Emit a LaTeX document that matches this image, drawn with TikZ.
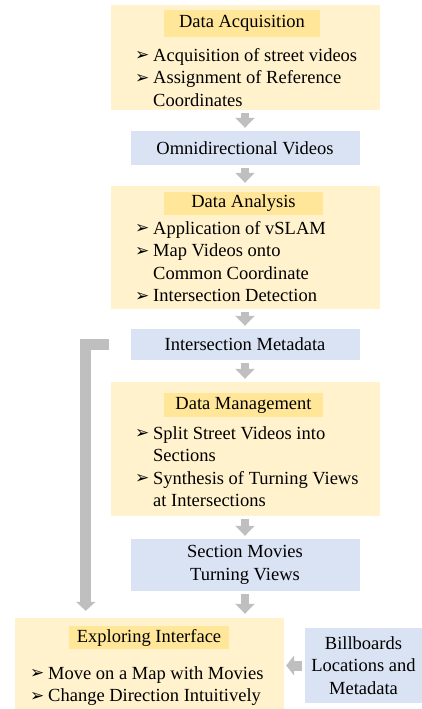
\documentclass[tikz,border=0pt]{standalone}
\usepackage{fontspec}
\setmainfont{Liberation Serif}
\newfontfamily\dingfont{DejaVu Sans}
\usetikzlibrary{arrows.meta}
\definecolor{stagefill}{HTML}{FFF2CC}
\definecolor{titlefill}{HTML}{FFE699}
\definecolor{datafill}{HTML}{DAE3F3}
\definecolor{arrowgray}{HTML}{BFBFBF}
\newcommand{\bul}{\makebox[18pt][l]{\raisebox{0.5pt}{\dingfont\fontsize{17}{17}\selectfont ➢}}}
\newcommand{\cont}{\hspace*{18pt}}
\tikzset{
every node/.style={font=\fontsize{18.5}{22.5}\selectfont},
stagebox/.style={fill=stagefill, inner sep=0pt},
titlebox/.style={fill=titlefill, inner sep=0pt},
databox/.style={fill=datafill, inner sep=0pt, align=center},
itemlist/.style={anchor=north west, inner sep=0pt, align=left},
flowarrow/.style={draw=arrowgray, line width=8pt,
  -{Triangle[width=19pt,length=10pt]}, shorten <=3pt, shorten >=3pt},
bigarrow/.style={draw=arrowgray, line width=11pt, line join=miter,
  -{Triangle[width=19pt,length=9pt]}},
}

\begin{document}
\begin{tikzpicture}[x=1pt, y=-1pt]
\useasboundingbox (0,0) rectangle (422,709);

% stages
\node[stagebox, minimum width=269pt, minimum height=105pt] (acq) at (245,57.5) {};
\node[titlebox, minimum width=156pt, minimum height=27pt] (acqtitle) at (242,23.5) {Data Acquisition};
\node[itemlist] (acqitems) at (135,48) {\bul Acquisition of street videos\\
\bul Assignment of Reference\\ \cont Coordinates};

\node[databox, minimum width=229pt, minimum height=34pt] (omni) at (245,148) {Omnidirectional Videos};

\node[stagebox, minimum width=269pt, minimum height=123pt] (ana) at (245,247.5) {};
\node[titlebox, minimum width=159pt, minimum height=23pt] (anatitle) at (243.5,203.5) {Data Analysis};
\node[itemlist] (anaitems) at (135,221) {\bul Application of vSLAM\\
\bul Map Videos onto\\ \cont Common Coordinate\\ \bul Intersection Detection};

\node[databox, minimum width=229pt, minimum height=31pt] (meta) at (245,344.5) {Intersection Metadata};

\node[stagebox, minimum width=269pt, minimum height=134pt] (man) at (245,449) {};
\node[titlebox, minimum width=159pt, minimum height=24pt] (mantitle) at (243.5,405) {Data Management};
\node[itemlist] (manitems) at (135,426) {\bul Split Street Videos into\\ \cont Sections\\
\bul Synthesis of Turning Views\\ \cont at Intersections};

\node[databox, minimum width=229pt, minimum height=52pt] (sec) at (245,565) {Section Movies\\Turning Views};

\node[stagebox, minimum width=269pt, minimum height=91pt] (expl) at (149.5,663.5) {};
\node[titlebox, minimum width=160pt, minimum height=23pt] (expltitle) at (149,637.5) {Exploring Interface};
\node[itemlist] (explitems) at (30,666) {\bul Move on a Map with Movies\\
\bul Change Direction Intuitively};

\node[databox, minimum width=117pt, minimum height=75pt] (bill) at (363.5,665.5) {Billboards\\Locations and\\Metadata};

% connectors
\draw[flowarrow] (acq.south) -- (omni.north);
\draw[flowarrow] (omni.south) -- (ana.north);
\draw[flowarrow] (ana.south) -- (meta.north);
\draw[flowarrow] (meta.south) -- (man.north);
\draw[flowarrow] (man.south) -- (sec.north);
\draw[flowarrow, shorten >=4pt] (sec.south) -- (sec.south |- expl.north);
\draw[flowarrow, line width=10pt, -{Triangle[width=20pt,length=8pt]}, shorten >=2pt]
  (bill.west) -- (bill.west -| expl.east);
\draw[bigarrow, shorten <=21pt, shorten >=7pt] (meta.west) -| ([xshift=71pt]expl.north west);
\end{tikzpicture}
\end{document}
